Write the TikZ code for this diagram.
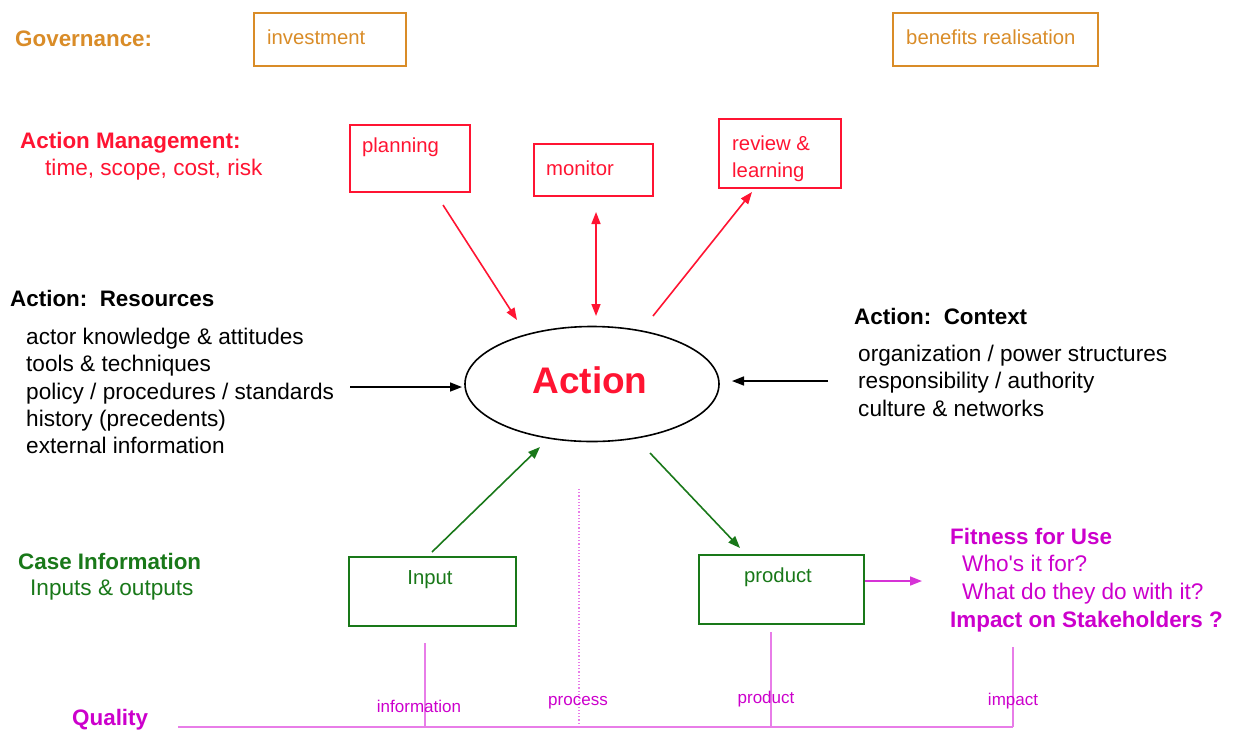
\documentclass[tikz,border=0pt]{standalone}
\usepackage{fontspec}
\setmainfont{Liberation Sans}
\usetikzlibrary{shapes.geometric,arrows.meta}
\definecolor{gov}{RGB}{217,140,40}
\definecolor{mgmt}{RGB}{255,20,50}
\definecolor{case}{RGB}{25,120,25}
\definecolor{fit}{RGB}{204,0,204}
\definecolor{qline}{RGB}{232,125,232}
\begin{document}
\begin{tikzpicture}[x=1pt,y=-1pt,
  lbl/.style={anchor=base west, inner sep=0pt, font=\fontsize{22.6}{26}\selectfont},
  head/.style={anchor=base west, inner sep=0pt, font=\fontsize{22.4}{26}\selectfont\bfseries},
  boxtext/.style={anchor=base west, inner sep=0pt, font=\fontsize{20.3}{24}\selectfont},
  small/.style={anchor=base, inner sep=0pt, font=\fontsize{17}{20}\selectfont, text=fit},
  frame/.style={draw, rectangle, anchor=north west, line width=1.8pt, inner sep=0pt},
  arr/.style={line width=1.6pt, -{Triangle[length=12pt,width=9pt]}},
  darr/.style={line width=1.6pt, {Triangle[length=12pt,width=9pt]}-{Triangle[length=12pt,width=9pt]}},
  qrule/.style={qline, line width=1.2pt}]
\useasboundingbox (0,0) rectangle (1233,729);

% governance row
\node[head, text=gov] (govh) at (15,46) {Governance:};
\node[frame, draw=gov, minimum width=152, minimum height=53] (inv) at (253,12) {};
\node[boxtext, text=gov] (invt) at (267,44) {investment};
\node[frame, draw=gov, minimum width=205, minimum height=53] (ben) at (892,12) {};
\node[boxtext, text=gov] (bent) at (906,44) {benefits realisation};

% action management
\node[head, text=mgmt] (mgh) at (20,148) {Action Management:};
\node[lbl, text=mgmt] (mgl) at (45,175) {time, scope, cost, risk};
\node[frame, draw=mgmt, minimum width=120, minimum height=67] (plan) at (349,124) {};
\node[boxtext, text=mgmt] (plant) at (362,152) {planning};
\node[frame, draw=mgmt, minimum width=119, minimum height=52] (mon) at (533,143) {};
\node[boxtext, text=mgmt] (mont) at (546,175) {monitor};
\node[frame, draw=mgmt, minimum width=122, minimum height=69] (rev) at (718,118) {};
\node[boxtext, text=mgmt] (revt1) at (732,150) {review \&};
\node[boxtext, text=mgmt] (revt2) at (732,177) {learning};

% central action
\node[draw, ellipse, line width=1.6pt, minimum width=254, minimum height=115, inner sep=0pt] (act) at (592,384) {};
\node[text=mgmt, font=\fontsize{37}{40}\selectfont\bfseries, inner sep=0pt] (actt) at (590,380) {Action};

% resources
\node[head] (resh) at (10,306) {Action:\ \ Resources};
\node[lbl] (res1) at (26,344) {actor knowledge \& attitudes};
\node[lbl] (res2) at (26,371) {tools \& techniques};
\node[lbl] (res3) at (26,399) {policy / procedures / standards};
\node[lbl] (res4) at (26,426) {history (precedents)};
\node[lbl] (res5) at (26,453) {external information};

% context
\node[head] (ctxh) at (854,324) {Action:\ \ Context};
\node[lbl] (ctx1) at (858,361) {organization / power structures};
\node[lbl] (ctx2) at (858,388) {responsibility / authority};
\node[lbl] (ctx3) at (858,416) {culture \& networks};

% case information
\node[head, text=case] (caseh) at (18,569) {Case Information};
\node[lbl, text=case] (casel) at (30,595) {Inputs \& outputs};
\node[frame, draw=case, minimum width=167, minimum height=69] (inp) at (348,556) {};
\node[boxtext, text=case, anchor=base] (inpt) at (430,584) {Input};
\node[frame, draw=case, minimum width=165, minimum height=69] (prod) at (698,554) {};
\node[boxtext, text=case, anchor=base] (prodt) at (778,582) {product};

% fitness for use
\node[head, text=fit] (fith) at (950,544) {Fitness for Use};
\node[lbl, text=fit] (fit1) at (962,571) {Who\textquotesingle s it for?};
\node[lbl, text=fit] (fit2) at (962,599) {What do they do with it?};
\node[head, text=fit] (fith2) at (950,627) {Impact on Stakeholders ?};

% arrow end points
\coordinate (planA) at (443,205);  \coordinate (planB) at (517,320);
\coordinate (monA)  at (596,212);  \coordinate (monB)  at (596,316);
\coordinate (revA)  at (653,316);  \coordinate (revB)  at (752,192);
\coordinate (resA)  at (350,387);  \coordinate (resB)  at (462,387);
\coordinate (ctxA)  at (828,381);  \coordinate (ctxB)  at (732,381);
\coordinate (inpA)  at (432,552);  \coordinate (inpB)  at (540,447);
\coordinate (prdA)  at (650,453);  \coordinate (prdB)  at (740,548);
\coordinate (fitB)  at (922,581);

\draw[arr, mgmt] (planA) -- (planB);
\draw[darr, mgmt] (monA) -- (monB);
\draw[arr, mgmt] (revA) -- (revB);
\draw[arr, black] (resA) -- (resB);
\draw[arr, black] (ctxA) -- (ctxB);
\draw[arr, case] (inpA) -- (inpB);
\draw[arr, case] (prdA) -- (prdB);
\draw[arr, fit!80!white] (prod.east |- fitB) -- (fitB);

% quality axis
\node[head, text=fit, anchor=base west] (qual) at (72,725) {Quality};
\coordinate (qL) at (178,727);
\coordinate (qI) at (425,727);
\coordinate (qP) at (579,727);
\coordinate (qD) at (771,727);
\coordinate (qR) at (1013,727);
\coordinate (qIt) at (425,643);
\coordinate (qPt) at (579,488);
\coordinate (qDt) at (771,632);
\coordinate (qRt) at (1013,647);
\draw[qline, line width=2.2pt] (qL) -- (qR);
\draw[qrule] (qI) -- (qIt);
\draw[qrule, dotted, line width=1.4pt] (qP) -- (qPt);
\draw[qrule] (qD) -- (qDt);
\draw[qrule] (qR) -- (qRt);
\node[small] (qinfo) at (419,712) {information};
\node[small] (qproc) at (578,705) {process};
\node[small] (qprod) at (766,703) {product};
\node[small] (qimp) at (1013,705) {impact};
\end{tikzpicture}
\end{document}
